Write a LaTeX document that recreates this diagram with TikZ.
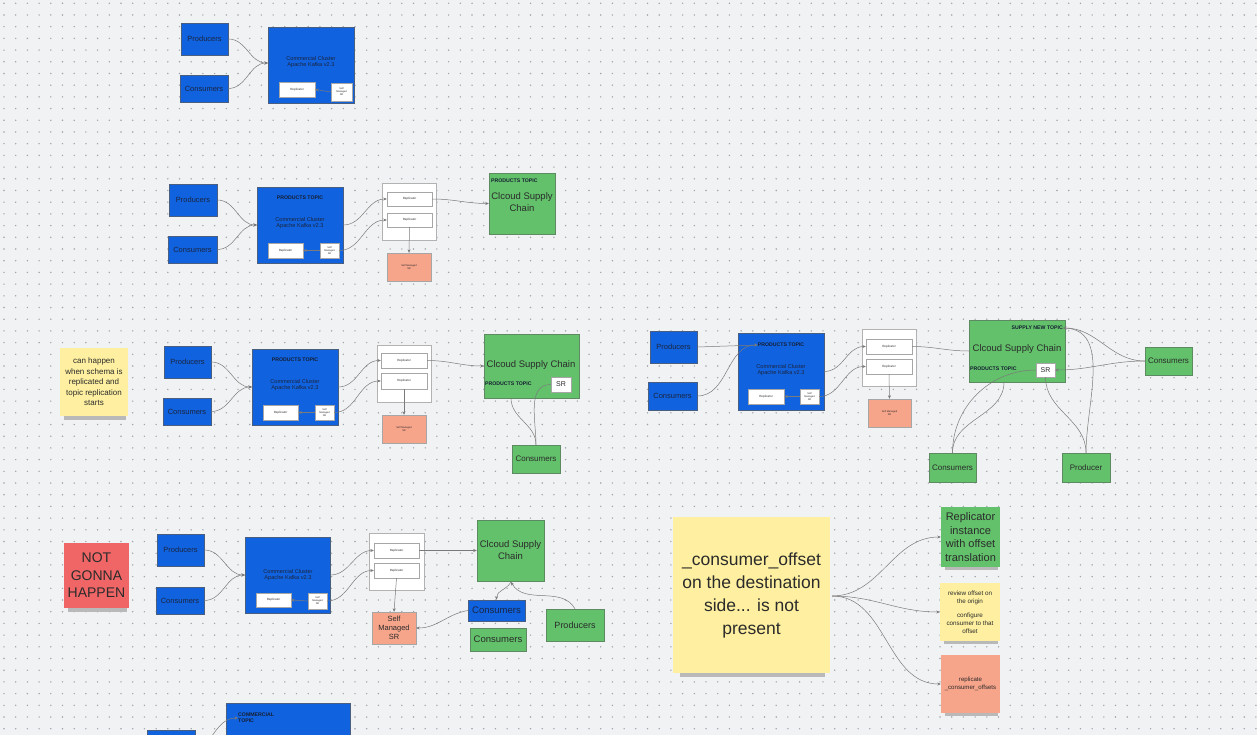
\documentclass[tikz,border=0pt]{standalone}
\usepackage{fontspec}
\setmainfont{Liberation Sans}
\usetikzlibrary{arrows.meta}
\definecolor{bgc}{HTML}{F1F2F4}
\definecolor{dotc}{HTML}{A0A5AC}
\definecolor{kblue}{HTML}{1062DE}
\definecolor{kbluel}{HTML}{4A5E80}
\definecolor{kgreen}{HTML}{62C16A}
\definecolor{kgreenl}{HTML}{5E8A62}
\definecolor{ksalmon}{HTML}{F6A48A}
\definecolor{kyellow}{HTML}{FEF0A0}
\definecolor{kred}{HTML}{F06666}
\definecolor{navy}{HTML}{1B2540}
\definecolor{txt}{HTML}{2B2B2B}
\definecolor{linec}{HTML}{7A7A7A}
\newcommand\mybox[7]{\node[#6,minimum width={(#4-#2)*1pt},minimum height={(#5-#3)*1pt}] (#1) at ({(#2+#4)/2},{(#3+#5)/2}) {#7};}
\tikzset{
  base/.style={inner sep=0pt,align=center,text=txt},
  bluebox/.style={base,fill=kblue,draw=kbluel,line width=0.5pt,text=navy,font=\fontsize{7.5}{9}\selectfont},
  greenbox/.style={base,fill=kgreen,draw=kgreenl,line width=0.5pt,font=\fontsize{8}{10}\selectfont},
  salmonbox/.style={base,fill=ksalmon,draw=gray!70,line width=0.4pt,font=\fontsize{2.5}{3}\selectfont},
  whitebox/.style={base,fill=white,draw=gray!70,line width=0.4pt,font=\fontsize{3}{3.5}\selectfont},
  srbox/.style={base,fill=white,draw=gray!70,line width=0.4pt,font=\fontsize{2.5}{3}\selectfont},
  holder/.style={base,fill=white,draw=gray!60,line width=0.5pt},
  sticky/.style={base,fill=kyellow},
  clustertext/.style={base,text=navy,font=\fontsize{5.6}{6.8}\selectfont},
  topiclabel/.style={base,text=navy!80!black,font=\bfseries\fontsize{5.2}{6.2}\selectfont},
  conn/.style={draw=linec,line width=0.5pt,-{Stealth[length=3.5pt,width=3pt]}},
  plain/.style={draw=linec,line width=0.5pt},
  shade/.style={fill=gray!55},
}
\begin{document}
\begin{tikzpicture}[x=1pt,y=-1pt]
\useasboundingbox (0,0) rectangle (1257,735);
\clip (0,0) rectangle (1257,735);
\fill[bgc] (0,0) rectangle (1257,735);
\foreach \x in {4,15.7,...,1257} {\foreach \y in {3.3,15,...,735} {\fill[dotc] (\x,\y) circle (0.8pt);}}

% ---------- Row 1 ----------
\mybox{p1}{181}{23}{228}{55}{bluebox}{Producers}
\mybox{c1}{180}{75}{228}{102}{bluebox}{Consumers}
\mybox{k1}{268}{27}{354}{103}{bluebox}{}
\node[clustertext] (k1t) at (311,62) {Commercial Cluster\\Apache Kafka v2.3};
\mybox{r1}{279}{82}{315}{97}{whitebox}{Replicator}
\mybox{s1}{331}{83}{352}{101}{srbox}{Self\\Managed\\SR}
\coordinate (k1in) at (268,63);
\draw[conn] (p1.east) to[out=0,in=180] (k1in);
\draw[conn] (c1.east) to[out=0,in=180] (k1in);
\draw[conn] (s1.west) -- (r1.east);

% ---------- Row 2 ----------
\mybox{p2}{169}{184}{217}{216}{bluebox}{Producers}
\mybox{c2}{168}{236}{217}{263}{bluebox}{Consumers}
\mybox{k2}{257}{187}{343}{263}{bluebox}{}
\node[topiclabel] (k2l) at (300,198) {PRODUCTS TOPIC};
\node[clustertext] (k2t) at (300,223) {Commercial Cluster\\Apache Kafka v2.3};
\mybox{r2}{268}{243}{303}{258}{whitebox}{Replicator}
\mybox{s2}{320}{243}{339}{258}{srbox}{Self\\Managed\\SR}
\mybox{w2}{382}{183}{436}{240}{holder}{}
\mybox{r2a}{387}{192}{432}{206}{whitebox}{Replicator}
\mybox{r2b}{387}{213}{432}{227}{whitebox}{Replicator}
\mybox{sm2}{387}{253}{431}{281}{salmonbox}{Self Managed\\SR}
\mybox{g2}{489}{173}{555}{234}{greenbox}{}
\node[topiclabel,anchor=west] (g2l) at (491,181) {PRODUCTS TOPIC};
\node[base,font=\fontsize{9.5}{12}\selectfont] (g2t) at (522,202) {Clcoud Supply\\Chain};
\coordinate (k2in) at (257,225);
\draw[conn] (p2.east) to[out=0,in=180] (k2in);
\draw[conn] (c2.east) to[out=0,in=180] (k2in);
\draw[conn] (k2.east) to[out=0,in=180] (r2a.west);
\draw[conn] (s2.east) to[out=0,in=180] (r2b.west);
\draw[conn] (s2.west) -- (r2.east);
\draw[conn] (r2a.east) to[out=0,in=180] (g2.west);
\draw[conn] (r2b.south) -- (sm2.north);

% ---------- Row 3 left ----------
\fill[shade] (64,416) rectangle (126,419.5);
\mybox{n1}{60}{348}{128}{416}{sticky,font=\fontsize{8}{10.5}\selectfont}{can happen\\when schema is\\replicated and\\topic replication\\starts}
\mybox{p3}{164}{346}{211}{378}{bluebox}{Producers}
\mybox{c3}{163}{398}{211}{425}{bluebox}{Consumers}
\mybox{k3}{252}{349}{338}{425}{bluebox}{}
\node[topiclabel] (k3l) at (295,360) {PRODUCTS TOPIC};
\node[clustertext] (k3t) at (295,385) {Commercial Cluster\\Apache Kafka v2.3};
\mybox{r3}{263}{405}{298}{420}{whitebox}{Replicator}
\mybox{s3}{315}{405}{334}{420}{srbox}{Self\\Managed\\SR}
\mybox{w3}{377}{345}{431}{402}{holder}{}
\mybox{r3a}{381}{353}{427}{368}{whitebox}{Replicator}
\mybox{r3b}{381}{373}{427}{389}{whitebox}{Replicator}
\mybox{sm3}{382}{415}{426}{443}{salmonbox}{Self Managed\\SR}
\mybox{g3}{484}{334}{579}{398}{greenbox}{}
\node[base,font=\fontsize{9.5}{12}\selectfont] (g3t) at (531,365) {Clcoud Supply Chain};
\node[topiclabel,anchor=west] (g3l) at (485,384) {PRODUCTS TOPIC};
\mybox{sr3}{551}{377}{571}{392}{base,fill=white,draw=gray!70,line width=0.4pt,font=\fontsize{7}{8}\selectfont}{SR}
\mybox{cs3}{512}{445}{560}{473}{greenbox}{Consumers}
\coordinate (k3in) at (252,387);
\coordinate (g3b) at (511,398);
\draw[conn] (p3.east) to[out=0,in=180] (k3in);
\draw[conn] (c3.east) to[out=0,in=180] (k3in);
\draw[conn] (k3.east) to[out=0,in=180] (r3a.west);
\draw[conn] (s3.east) to[out=0,in=180] (r3b.west);
\draw[conn] (s3.west) -- (r3.east);
\draw[conn] (r3a.east) to[out=0,in=180] (g3.west);
\draw[conn] (r3b.south) -- (sm3.north);
\draw[plain] (g3b) to[out=270,in=90] (cs3.north);
\draw[plain] (sr3.west) to[out=180,in=90] (cs3.north);

% ---------- Row 3 right ----------
\mybox{p4}{650}{331}{697}{363}{bluebox}{Producers}
\mybox{c4}{648}{382}{697}{410}{bluebox}{Consumers}
\mybox{k4}{738}{333}{824}{410}{bluebox}{}
\node[topiclabel] (k4l) at (781,345) {PRODUCTS TOPIC};
\node[clustertext] (k4t) at (781,370) {Commercial Cluster\\Apache Kafka v2.3};
\mybox{r4}{748}{389}{784}{404}{whitebox}{Replicator}
\mybox{s4}{800}{389}{819}{404}{srbox}{Self\\Managed\\SR}
\mybox{w4}{862}{329}{916}{386}{holder}{}
\mybox{r4a}{866}{339}{912}{354}{whitebox}{Replicator}
\mybox{r4b}{866}{359}{912}{374}{whitebox}{Replicator}
\mybox{sm4}{868}{399}{911}{427}{salmonbox}{Self Managed\\SR}
\mybox{g4}{969}{320}{1065}{382}{greenbox}{}
\node[topiclabel,anchor=east] (g4n) at (1063,328) {SUPPLY NEW TOPIC};
\node[base,font=\fontsize{9.5}{12}\selectfont] (g4t) at (1017,349) {Clcoud Supply Chain};
\node[topiclabel,anchor=west] (g4l) at (970,369) {PRODUCTS TOPIC};
\mybox{sr4}{1036}{363}{1055}{377}{base,fill=white,draw=gray!70,line width=0.4pt,font=\fontsize{7}{8}\selectfont}{SR}
\mybox{cr4}{1145}{347}{1192}{375}{greenbox}{Consumers}
\mybox{cb4}{929}{453}{976}{482}{greenbox}{Consumers}
\mybox{pr4}{1062}{453}{1110}{482}{greenbox}{Producer}
\coordinate (g4b) at (1004,382);
\draw[plain] (p4.east) -- (k4l.west);
\draw[conn] (c4.east) to[out=0,in=180] (k4l.west);
\draw[conn] (k4.east) to[out=0,in=180] (r4a.west);
\draw[conn] (s4.east) to[out=0,in=180] (r4b.west);
\draw[conn] (s4.west) -- (r4.east);
\draw[plain] (r4a.east) to[out=0,in=180] (g4.west);
\draw[conn] (r4b.south) -- (sm4.north);
\draw[conn] (cr4.west) to[out=180,in=0] (g4n.east);
\draw[conn] (cr4.west) to[out=180,in=0] (sr4.east);
\draw[plain] (g4b) to[out=270,in=90] (cb4.north);
\draw[plain] (sr4.west) to[out=180,in=90] (cb4.north);
\draw[plain] (sr4.south) to[out=270,in=90] (pr4.north);
\draw[plain] (g4n.east) to[out=0,in=90] (pr4.north);

% ---------- Row 4 ----------
\fill[shade] (68,608) rectangle (127,611.5);
\mybox{n2}{64}{543}{129}{608}{base,fill=kred,font=\fontsize{14}{17.5}\selectfont}{NOT\\GONNA\\HAPPEN}
\mybox{p5}{157}{534}{204}{566}{bluebox}{Producers}
\mybox{c5}{156}{587}{204}{614}{bluebox}{Consumers}
\mybox{k5}{245}{537}{330}{613}{bluebox}{}
\node[clustertext] (k5t) at (288,575) {Commercial Cluster\\Apache Kafka v2.3};
\mybox{r5}{256}{593}{291}{607}{whitebox}{Replicator}
\mybox{s5}{308}{593}{327}{609}{srbox}{Self\\Managed\\SR}
\mybox{w5}{369}{533}{424}{590}{holder}{}
\mybox{r5a}{374}{543}{419}{558}{whitebox}{Replicator}
\mybox{r5b}{374}{563}{419}{578}{whitebox}{Replicator}
\mybox{sm5}{372}{612}{416}{644}{base,fill=ksalmon,draw=gray!70,line width=0.4pt,font=\fontsize{7.5}{8.8}\selectfont}{Self\\Managed\\SR}
\mybox{g5}{477}{520}{544}{581}{greenbox,font=\fontsize{9.5}{12}\selectfont}{Clcoud Supply\\Chain}
\mybox{cb5}{468}{600}{525}{621}{bluebox,font=\fontsize{9.5}{11}\selectfont}{Consumers}
\mybox{cg5}{470}{628}{526}{651}{greenbox,font=\fontsize{9.5}{11}\selectfont}{Consumers}
\mybox{pr5}{546}{609}{604}{641}{greenbox,font=\fontsize{9}{11}\selectfont}{Producers}
\coordinate (k5in) at (245,575);
\coordinate (g5b) at (511,582);
\draw[conn] (p5.east) to[out=0,in=180] (k5in);
\draw[conn] (c5.east) to[out=0,in=180] (k5in);
\draw[conn] (k5.east) to[out=0,in=180] (r5a.west);
\draw[conn] (s5.east) to[out=0,in=180] (r5b.west);
\draw[conn] (s5.west) -- (r5.east);
\draw[conn] (r5a.east) to[out=0,in=180] (g5.west);
\draw[conn] (r5b.south) -- (sm5.north);
\draw[conn] (g5b) to[out=240,in=90] (cb5.north);
\draw[conn] (pr5.north) to[out=120,in=300] (g5b);
\draw[conn] (cb5.west) to[out=190,in=0] (sm5.east);

% ---------- Row 5 stickies ----------
\fill[shade] (680,673) rectangle (825,677);
\mybox{ny}{673}{517}{830}{673}{sticky,font=\fontsize{17.5}{23}\selectfont}{\_consumer\_offset\\on the destination\\side... is not\\present}
\fill[shade] (945,567) rectangle (998,570);
\mybox{gr}{941}{507}{1000}{567}{base,fill=kgreen,font=\fontsize{11}{13.8}\selectfont}{Replicator\\instance\\with offset\\translation}
\fill[shade] (944,641) rectangle (998,644);
\mybox{yr}{940}{583}{1000}{641}{sticky,font=\fontsize{6.3}{8}\selectfont}{review offset on\\the origin\\[6pt]configure\\consumer to that\\offset}
\fill[shade] (945,713) rectangle (998,716);
\mybox{sr}{941}{655}{1000}{713}{base,fill=ksalmon,font=\fontsize{6.1}{8}\selectfont}{replicate\\\_consumer\_offsets}
\coordinate (nyout) at (832,596);
\draw[conn] (nyout) to[out=0,in=180] (gr.west);
\draw[conn] (nyout) to[out=0,in=180] (yr.west);
\draw[conn] (nyout) to[out=0,in=180] (sr.west);

% ---------- Bottom ----------
\mybox{bb1}{147}{730}{195}{760}{bluebox}{}
\mybox{bb2}{226}{703}{350}{760}{bluebox}{}
\node[topiclabel,anchor=west,align=left] (bb2l) at (238,718) {COMMERCIAL\\TOPIC};
\coordinate (bbsrc) at (205,745);
\draw[conn] (bbsrc) to[out=50,in=180] (bb2l.west);
\end{tikzpicture}
\end{document}
